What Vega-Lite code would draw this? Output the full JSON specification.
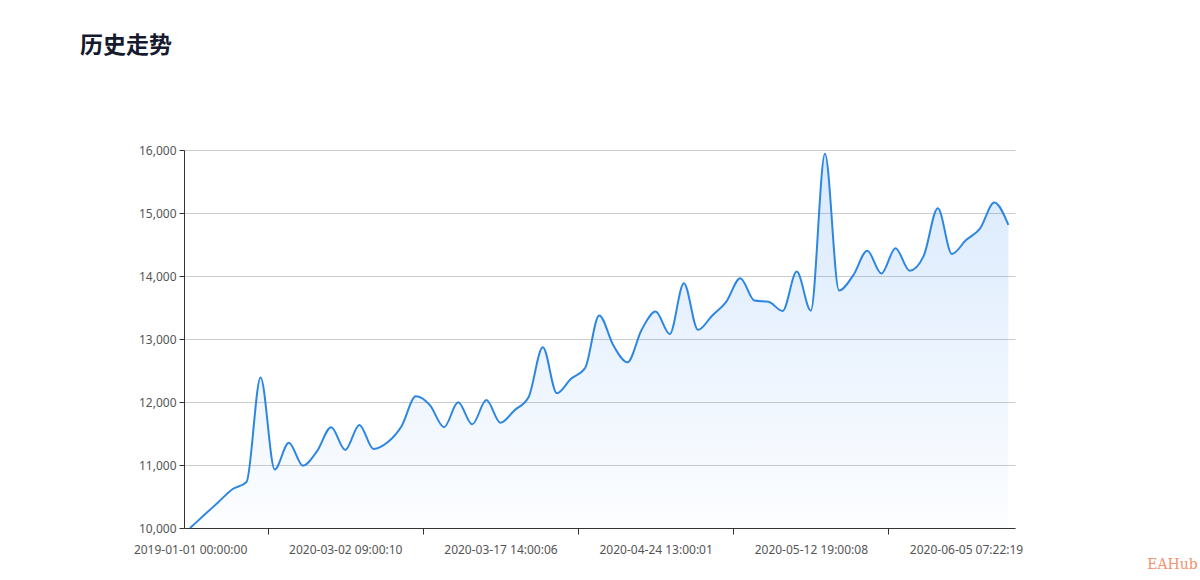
{
  "$schema": "https://vega.github.io/schema/vega-lite/v6.json",
  "width": 831,
  "height": 378,
  "autosize": "none",
  "padding": {"left": 184, "top": 150, "right": 185, "bottom": 52},
  "background": "#ffffff",
  "title": {
    "text": "历史走势",
    "anchor": "start",
    "frame": "group",
    "dx": -104,
    "offset": 86,
    "font": "Noto Sans CJK SC",
    "fontSize": 23,
    "fontWeight": "bold",
    "color": "#161a2e"
  },
  "data": {
    "values": [
      {"i": 0, "v": 10000}, {"i": 1, "v": 10205}, {"i": 2, "v": 10410}, {"i": 3, "v": 10615},
      {"i": 4, "v": 10730}, {"i": 5, "v": 12390}, {"i": 6, "v": 10930}, {"i": 7, "v": 11355},
      {"i": 8, "v": 10990}, {"i": 9, "v": 11220}, {"i": 10, "v": 11600}, {"i": 11, "v": 11240},
      {"i": 12, "v": 11635}, {"i": 13, "v": 11255}, {"i": 14, "v": 11360}, {"i": 15, "v": 11620},
      {"i": 16, "v": 12090}, {"i": 17, "v": 11950}, {"i": 18, "v": 11600}, {"i": 19, "v": 11995},
      {"i": 20, "v": 11645}, {"i": 21, "v": 12030}, {"i": 22, "v": 11670}, {"i": 23, "v": 11870},
      {"i": 24, "v": 12080}, {"i": 25, "v": 12870}, {"i": 26, "v": 12140}, {"i": 27, "v": 12370},
      {"i": 28, "v": 12540}, {"i": 29, "v": 13375}, {"i": 30, "v": 12900}, {"i": 31, "v": 12630},
      {"i": 32, "v": 13143}, {"i": 33, "v": 13435}, {"i": 34, "v": 13080}, {"i": 35, "v": 13885},
      {"i": 36, "v": 13145}, {"i": 37, "v": 13370}, {"i": 38, "v": 13590}, {"i": 39, "v": 13965},
      {"i": 40, "v": 13610}, {"i": 41, "v": 13590}, {"i": 42, "v": 13445}, {"i": 43, "v": 14070},
      {"i": 44, "v": 13450}, {"i": 45, "v": 15940}, {"i": 46, "v": 13770}, {"i": 47, "v": 14010},
      {"i": 48, "v": 14400}, {"i": 49, "v": 14040}, {"i": 50, "v": 14440}, {"i": 51, "v": 14085},
      {"i": 52, "v": 14320}, {"i": 53, "v": 15075}, {"i": 54, "v": 14350}, {"i": 55, "v": 14570},
      {"i": 56, "v": 14757}, {"i": 57, "v": 15165}, {"i": 58, "v": 14810}
    ]
  },
  "encoding": {
    "y": {
      "field": "v",
      "type": "quantitative",
      "scale": {"domain": [10000, 16000], "zero": false, "nice": false},
      "axis": {
        "title": null,
        "values": [10000, 11000, 12000, 13000, 14000, 15000, 16000],
        "format": ",.0f",
        "grid": true,
        "gridColor": "#cccccc",
        "domainColor": "#333333",
        "tickColor": "#333333",
        "tickSize": 5,
        "labelPadding": 3,
        "labelFont": "Noto Sans",
        "labelFontSize": 12,
        "labelColor": "#555555"
      }
    }
  },
  "layer": [
    {
      "mark": {
        "type": "area",
        "interpolate": "monotone",
        "line": {"color": "#2d87e2", "strokeWidth": 2},
        "color": {
          "gradient": "linear",
          "x1": 0, "y1": 0, "x2": 0, "y2": 1,
          "stops": [
            {"offset": 0, "color": "rgba(40,130,245,0.25)"},
            {"offset": 1, "color": "rgba(40,130,245,0.02)"}
          ]
        }
      },
      "encoding": {
        "x": {
          "field": "i",
          "type": "quantitative",
          "scale": {"domain": [-0.43, 58.47], "nice": false, "zero": false},
          "axis": {
            "orient": "bottom",
            "values": [0, 11, 22, 33, 44, 55],
            "labelExpr": "['2019-01-01 00:00:00', '2020-03-02 09:00:10', '2020-03-17 14:00:06', '2020-04-24 13:00:01', '2020-05-12 19:00:08', '2020-06-05 07:22:19'][round(datum.value / 11)]",
            "grid": false,
            "ticks": false,
            "domainColor": "#333333",
            "labelFlush": false,
            "labelPadding": 16,
            "labelFont": "Noto Sans",
            "labelFontSize": 12,
            "labelColor": "#555555",
            "title": "EAHub",
            "titleX": 988,
            "titleY": 36,
            "titleAlign": "center",
            "titleBaseline": "middle",
            "titleFont": "DejaVu Serif",
            "titleFontSize": 14,
            "titleFontWeight": "normal",
            "titleColor": "#f4906f"
          }
        },
        "y2": {"datum": 10000}
      }
    },
    {
      "mark": {"type": "line", "opacity": 0},
      "encoding": {
        "x": {
          "field": "i",
          "type": "quantitative",
          "axis": {
            "orient": "bottom",
            "values": [5.5, 16.5, 27.5, 38.5, 49.5],
            "labels": false,
            "grid": false,
            "domain": false,
            "ticks": true,
            "tickSize": 6,
            "tickColor": "#333333",
            "title": null
          }
        }
      }
    }
  ],
  "resolve": {"axis": {"x": "independent"}},
  "config": {"view": {"stroke": null}}
}
